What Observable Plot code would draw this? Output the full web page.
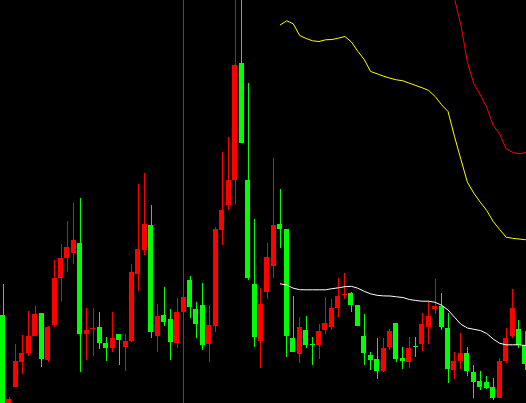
<!DOCTYPE html>
<html><head><meta charset="utf-8">
<script src="https://cdn.jsdelivr.net/npm/d3@7"></script>
<script src="https://cdn.jsdelivr.net/npm/@observablehq/plot@0.6"></script>
<style>html,body{margin:0;padding:0;background:#000;overflow:hidden}#chart svg{display:block}</style>
</head><body><div id="chart"></div><script>
// Candle values (price units), one entry per bar, left to right
const opens  = [88,-17,16,41,50,67,90,43,78,125,145,150,160,69,75,76,60,55,69,56,62,129,153,178,67,88,84,60,91,123,94,98,59,77,173,198,223,340,223,119,62,111,137,179,174,65,49,73,59,58,73,76,95,109,110,98,67,48,44,32,56,80,45,41,57,59,76,94,97,75,33,42,50,31,22,21,16,5,42,67,74,58];
const closes = [-17,4,42,50,67,89,44,76,125,145,156,163,69,73,75.4,60,55,65,63,62,131,154,179,71,87,81,61,91,106,96,79,58,78,174,193,223,338,260,125,66,99,146,178,174,67,51,76,58,58.6,72,80,95,107,109.4,98,77,50,43,32,55,72,44,42,55,56.6,79,87,97,76,34,42,50,32,21,16,15,5,42,65,95,58,39];
const highs  = [119,6,59,68,92,97,90,77,143,159,182,200,205,95,95,91,66,91,69,69,139,219,230,198,99,116,94,105,113,127,101,120,98,176,251,266,413,413,320,184,115,160,245,214,174,107,86,87,66,79,106,104,125,130,111,98,89,51,65,65,74,80,56,66,66,90,102,124,110,90,51,70,56,38,32,27,25,45,75,114,83,72];
const lows   = [-22,-22,16,29,47,67,36,41,76,102,131,139,31,43,47,54,42,51,38,32,61,112,148,65,51,77,43,55,85,85,65,53,41,71,158,193,199,260,123,56,35,104,125,155,46,51,40,55,38,44,69,73,86,104,91,77,38,33,24,31,53,41,34,35,46,52,59,89,73,20,24,34,27,5,13,14,3,5,40,65,55,33];

// Indicator lines (bar index of first value, then values)
const maStart = 43;
const whiteLine  = [119.7,118.5,115.3,113.8,113.7,113.7,113.7,113.7,114.8,115.7,116.8,117.2,115.3,112.2,109.7,108.2,107.6,107.5,106.7,106,104,103,102.3,102.3,101.2,98.3,93.5,86.3,79.2,75.5,74.2,73,70,64.5,60.2,58.7,58.7,58.7,58];
const yellowLine = [378.7,382.7,379.7,368,365,362.7,362,363.7,364,365.3,367,361.7,352.3,344,332,329.7,327.3,325.3,323.7,322.7,320.3,318,315.7,313,307,298.7,292,267,244,221.3,210.3,201.3,193,182,174,166.3,165.2,164.5,163.8];
const redStart = 70;
const redLine = [405,378.3,341.3,319.7,308.7,296.3,278,269.7,254.7,251.3,249.7,251];

// Period separator (bar index)
const separators = [28];

const UP = "#ff0000", DOWN = "#00ff00";
const candles = opens.map((o, i) => ({i, o, c: closes[i], h: highs[i], l: lows[i], col: closes[i] >= o ? UP : DOWN}));
const dojis = candles.filter(d => Math.abs(d.c - d.o) < 1);
const white = whiteLine.map((v, k) => ({i: maStart + k, v}));
const yellow = yellowLine.map((v, k) => ({i: maStart + k, v}));
const red = redLine.map((v, k) => ({i: redStart + k, v}));
const hw = 0.3876;

const chart = Plot.plot({
  width: 526, height: 403, margin: 0,
  style: {background: "#000", overflow: "hidden"},
  x: {domain: [-0.3876, 81.163], axis: null},
  y: {domain: [0, 403], axis: null},
  marks: [
    Plot.ruleX(separators, {x: d => d, stroke: "#ff0000", shapeRendering: "crispEdges"}),
    Plot.ruleX(candles, {x: "i", y1: "l", y2: "h", stroke: "col", shapeRendering: "crispEdges", clip: true}),
    Plot.rect(candles, {x1: d => d.i - hw, x2: d => d.i + hw, y1: "o", y2: "c", fill: "col", shapeRendering: "crispEdges", clip: true}),
    Plot.ruleY(dojis, {y: "o", x1: d => d.i - hw, x2: d => d.i + hw, stroke: "col", shapeRendering: "crispEdges"}),
    Plot.line(white, {x: "i", y: "v", stroke: "#ffffff", strokeWidth: 1, clip: true}),
    Plot.line(yellow, {x: "i", y: "v", stroke: "#ffff00", strokeWidth: 1, clip: true}),
    Plot.line(red, {x: "i", y: "v", stroke: "#ff0000", strokeWidth: 1, clip: true})
  ]
});
document.getElementById("chart").appendChild(chart);
</script></body></html>
